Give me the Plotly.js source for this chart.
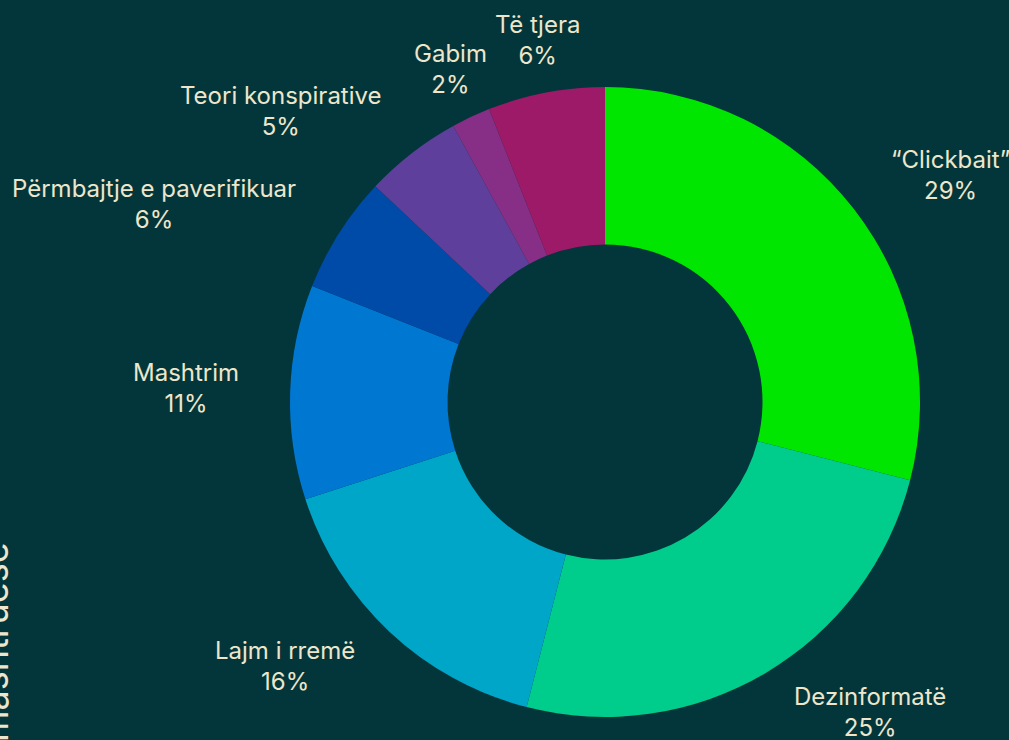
<!DOCTYPE html>
<html>
<head>
<meta charset="utf-8">
<script src="https://cdn.plot.ly/plotly-3.0.1.min.js"></script>
<style>
html,body{margin:0;padding:0;background:#03363a;}
#chart{width:1009px;height:740px;}
</style>
</head>
<body>
<div id="chart"></div>
<script>
const categories = ["\u201cClickbait\u201d", "Dezinformatë", "Lajm i rremë", "Mashtrim", "Përmbajtje e paverifikuar", "Teori konspirative", "Gabim", "Të tjera"];
const shares = [29, 25, 16, 11, 6, 5, 2, 6];
const sliceColors = ["#00e600", "#00cd8b", "#00a6c8", "#0078d2", "#004ba8", "#5e3f9b", "#872f86", "#9c1a68"];
const sideTitle = "Lloji i përmbajtjes mashtruese";

const textColor = "#ede6cc";
const fontFamily = "Inter, 'Liberation Sans', sans-serif";

// label placement (pixel centres in the 1009x740 figure)
const labelPixels = [[950, 175], [870, 712], [285, 666], [186, 388], [154, 204], [281, 111], [450, 69], [537, 40]];

const M = {l: 290, r: 89, t: 87, b: 23};
const W = 1009, H = 740;
const pw = W - M.l - M.r, ph = H - M.t - M.b;

const trace = {
  type: "pie",
  labels: categories,
  values: shares,
  hole: 0.5,
  sort: false,
  direction: "clockwise",
  rotation: 0,
  marker: {colors: sliceColors, line: {width: 0}},
  textinfo: "none",
  hoverinfo: "none",
  showlegend: false
};

const annotations = categories.map((c, i) => ({
  text: c + "<br>" + shares[i] + "%",
  xref: "paper", yref: "paper",
  x: (labelPixels[i][0] - M.l) / pw,
  y: (H - M.b - labelPixels[i][1]) / ph,
  xanchor: "center", yanchor: "middle",
  align: "center",
  showarrow: false,
  font: {family: fontFamily, size: 24, color: textColor}
}));

annotations.push({
  text: sideTitle,
  xref: "paper", yref: "paper",
  x: (-5 - M.l) / pw, y: (H - M.b - 796) / ph,
  xanchor: "center", yanchor: "middle",
  textangle: -90,
  showarrow: false,
  font: {family: fontFamily, size: 36, color: textColor}
});

const layout = {
  width: W,
  height: H,
  paper_bgcolor: "#03363a",
  plot_bgcolor: "#03363a",
  margin: M,
  showlegend: false,
  annotations: annotations
};

Plotly.newPlot("chart", [trace], layout, {displayModeBar: false, staticPlot: true});
</script>
</body>
</html>
